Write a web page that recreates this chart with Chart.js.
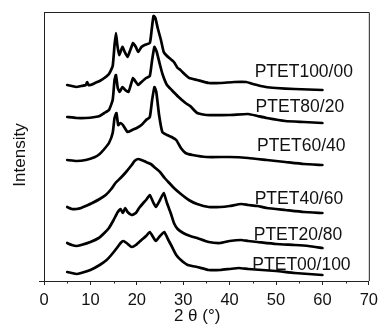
<!DOCTYPE html>
<html><head><meta charset="utf-8">
<script src="https://cdn.jsdelivr.net/npm/chart.js@4/dist/chart.umd.min.js"></script>
<style>html,body{margin:0;padding:0;background:#fff;}</style>
</head><body>
<canvas id="c" width="384" height="329"></canvas>
<script>
const seriesNames = ["PTET100/00","PTET80/20","PTET60/40","PTET40/60","PTET20/80","PTET00/100"];

const theta1 = [5,6,7,8,9,9.3,9.6,10,11,12,13,14,14.8,15.2,15.5,15.8,16.2,16.9,17.4,18,18.6,19.2,19.8,20.3,21,21.7,22.8,23.2,23.6,24,24.5,25.2,25.8,26.3,27,28,28.8,29.4,30.5,31.3,33,35.5,38,41,43.6,45,47.8,50,54,60];
const int1   = [196,195,194,195,196,199,196,196,198,200,203,207,215,236,248,236,226,234,229,224,231,238,234,229,234,236,238,251,265,263,253,241,229,226,223,219,213,211,206,203,201,198,198,199,199,197,194,193,192,191];

const theta2 = [5,7,9,11,12,13,14,14.8,15.2,15.5,15.9,16.3,16.9,17.5,18.2,18.7,19.2,19.8,20.3,21,22,22.8,23.3,23.8,24.3,25,25.6,26.5,27.5,29,30.5,31.5,33,35,40,44,46,48,52,56,60];
const int2   = [164,163,163,164,165,168,171,181,201,206,193,189,194,191,189,196,203,199,196,199,203,205,221,234,229,216,206,196,191,184,178,175,168,166,166,167,165,163,160,159,158];

const theta3 = [5,7,9,11,12,13,14,14.8,15.2,15.6,16,16.5,17,18,19,20,21,22,22.8,23.3,23.8,24.2,24.8,25.5,26.5,27.5,28.5,29.5,30.5,32,35,40,44,48,52,56,60];
const int3   = [121,120,121,124,127,132,138,148,163,168,156,158,156,149,151,153,156,161,164,181,194,189,166,149,146,144,141,133,128,126,124,124,123,121,119,117,116];

const theta4 = [5,6,7,8,9,10.4,12,13.3,14.5,15.4,16.5,17.5,18.9,19.5,20.3,21,22,23,24,25,26,27,28,29.5,31.2,33,35.5,38,40,42.5,44,46,48,52,56,60];
const int4   = [74,72,72,73,75,78,82,86,92,98,103,108,116,120,122,121,119,117,113,109,103,98,93,87,81,77,74,74,75,77,76,75,73,71,69,68];

const theta5 = [5,6,7,8,10,11.8,13,14,15,15.9,16.5,17,17.5,18,18.9,19.8,20.5,21.4,22,22.8,23.5,24.1,25,25.8,26.5,27.3,28,28.8,30,31.5,33,35.5,38,40,42.5,44,46,50,54,57,60];
const int5   = [38,36,35,36,39,43,48,53,61,69,72,68,73,69,66,68,73,78,81,86,79,74,81,88,78,68,58,52,48,45,43,39,38,40,41,40,39,37,36,35,33];

const theta6 = [5,6,7,8,10,12,13.5,14.5,15.7,16.5,17.1,17.8,18.9,19.8,21,22,22.8,23.5,24.1,25,25.9,26.8,27.5,28.5,29.5,31,33,35.5,38,40,42,44,47,50,54,60];
const int6   = [9,8,7,8,11,16,21,26,33,38,40,38,34,36,41,45,49,44,40,45,49,41,35,26,21,16,14,11,11,12,13,12,11,10,8,6];

const xTicks = [0,10,20,30,40,50,60,70];
const xMinorTicks = [5,15,25,35,45,55,65];
const labelTheta = [45.4,45.6,45.9,45.4,45.2,44.9];
const labelInt   = [208.5,173.5,135,82,45.5,15.5];

const thetas = [theta1,theta2,theta3,theta4,theta5,theta6];
const ints = [int1,int2,int3,int4,int5,int6];

const datasets = seriesNames.map((n,i)=>({
  label:n,
  data: thetas[i].map((t,j)=>({x:t,y:ints[i][j]})),
  borderColor:'#000', borderWidth:2.7, pointRadius:0, tension:0.15,
  borderJoinStyle:'round', borderCapStyle:'round', fill:false
}));

const FONT = "'Liberation Sans', Arial, sans-serif";

const deco = {
  id:'deco',
  afterDraw(chart){
    const ctx = chart.ctx, a = chart.chartArea, xs = chart.scales.x, ys = chart.scales.y;
    ctx.save();
    ctx.strokeStyle = '#222'; ctx.lineWidth = 1;
    ctx.beginPath();
    ctx.moveTo(a.left, a.top+0.5); ctx.lineTo(a.right+0.5, a.top+0.5); ctx.lineTo(a.right+0.5, a.bottom);
    ctx.stroke();
    ctx.beginPath();
    xMinorTicks.forEach(v=>{ const px = Math.round(xs.getPixelForValue(v))+0.5; ctx.moveTo(px,a.bottom); ctx.lineTo(px,a.bottom+2.5); });
    ctx.stroke();
    ctx.fillStyle = '#111';
    ctx.font = "17.5px " + FONT;
    ctx.textBaseline = 'middle'; ctx.textAlign = 'left';
    seriesNames.forEach((n,i)=>{ ctx.fillText(n, xs.getPixelForValue(labelTheta[i]), ys.getPixelForValue(labelInt[i])); });
    ctx.font = "17px " + FONT;
    ctx.textAlign = 'center';
    ctx.fillText("2 θ (°)", xs.getPixelForValue(33.0), 316);
    ctx.save();
    ctx.translate(20, ys.getPixelForValue(126));
    ctx.rotate(-Math.PI/2);
    ctx.fillText("Intensity", 0, 0);
    ctx.restore();
    ctx.restore();
  }
};

new Chart(document.getElementById('c'), {
  type:'line',
  data:{datasets},
  plugins:[deco],
  options:{
    responsive:false, animation:false, devicePixelRatio:1,
    layout:{padding:{top:12,right:8.5,left:0,bottom:0}},
    plugins:{legend:{display:false}, tooltip:{enabled:false}},
    scales:{
      x:{type:'linear', min:0, max:70,
        afterBuildTicks:s=>{ s.ticks = xTicks.map(v=>({value:v})); },
        afterFit:s=>{ s.height = 48; },
        ticks:{font:{size:16.5, family:FONT}, color:'#111', padding:6, maxRotation:0, autoSkip:false},
        grid:{drawOnChartArea:false, drawTicks:true, tickLength:4, color:'#222', tickColor:'#222'},
        border:{display:true, color:'#222', width:1}
      },
      y:{type:'linear', min:0, max:269,
        afterBuildTicks:s=>{ s.ticks = [{value:0}]; },
        afterFit:s=>{ s.width = 44; },
        ticks:{display:false},
        grid:{drawOnChartArea:false, drawTicks:true, tickLength:5, color:'#222', tickColor:'#222'},
        border:{display:true, color:'#222', width:1}
      }
    }
  }
});
</script>
</body></html>
